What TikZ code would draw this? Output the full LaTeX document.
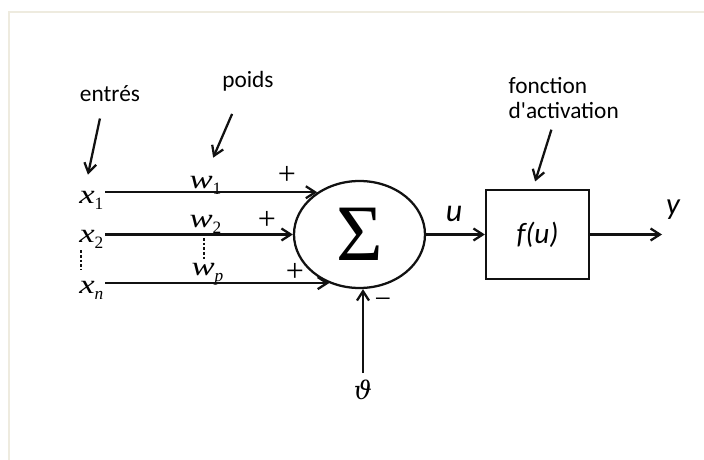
\documentclass[tikz,border=0pt]{standalone}
\usepackage{fontspec}
\usepackage{graphicx}
\usepackage{tikz}
\usetikzlibrary{positioning,shapes.geometric,arrows.meta}
\newfontfamily\carl{Carlito}
\newfontfamily\tmsf{Liberation Serif}
\newfontfamily\djv{DejaVu Serif}
\definecolor{NeurFrame}{HTML}{EEEBDF}
\definecolor{NeurInk}{HTML}{111111}
\newcommand{\vsub}[2]{\scalebox{1.3}[1]{\itshape #1}\raisebox{-0.55ex}{\fontsize{13}{13}\selectfont #2}}

\begin{document}
\begin{tikzpicture}[x=0.75pt,y=-0.75pt,>={Straight Barb[length=7pt,width=9pt]}]
  \tikzstyle{lbl}=[inner sep=1pt,font=\carl\fontsize{17.5}{18.75}\selectfont]
  \tikzstyle{var}=[inner sep=1pt,font=\tmsf\fontsize{20}{20}\selectfont]
  \tikzstyle{sgn}=[inner sep=0pt,font=\tmsf\fontsize{24}{24}\selectfont]
  \tikzstyle{wire}=[draw=NeurInk,line width=1.7pt]
  \tikzstyle{dots}=[wire,line width=1.3pt,dash pattern=on 2pt off 1.5pt]
  \useasboundingbox (0,0) rectangle (704,460);
  \draw[NeurFrame,line width=1.5pt] (9,460) -- (9,12) -- (704,12);

  % neurone
  \node[wire,ellipse,minimum width=98.25pt,minimum height=80.25pt,inner sep=0pt]
    (sum) at (359.5,234.5) {\tmsf\fontsize{60}{60}\selectfont Σ};
  \node[wire,minimum width=77.25pt,minimum height=66.75pt]
    (act) at (537.5,234.5) {\carl\itshape\fontsize{22}{22}\selectfont f(u)};
  \coordinate (out) at (662,234.5);

  % entrees et poids
  \node[var,anchor=base east] (x1) at (105,203) {\vsub{x}{1}};
  \node[var,anchor=base east] (x2) at (105,242) {\vsub{x}{2}};
  \node[var,anchor=base east] (xn) at (105,293) {\vsub{x}{\itshape n}};
  \node[var,anchor=base west] (w1) at (188,188) {\vsub{w}{1}};
  \node[var,anchor=base west] (w2) at (188,227) {\vsub{w}{2}};
  \node[var,anchor=base west] (wp) at (190,275) {\vsub{w}{\itshape p}};
  \node[sgn] (p1) at (287,175) {+};
  \node[sgn] (p2) at (267,220) {+};
  \node[sgn] (p3) at (295,272) {+};
  \node[sgn,font=\tmsf\fontsize{22}{22}\selectfont] (mn) at (383,303) {−};
  \node[inner sep=1pt,font=\djv\itshape\fontsize{19}{19}\selectfont]
    (theta) at (363,390) {ϑ};
  \node[lbl,font=\carl\itshape\fontsize{24}{24}\selectfont] (u) at (454,214) {u};
  \node[lbl,font=\carl\itshape\fontsize{23}{23}\selectfont] (y) at (673,210) {y};

  % etiquettes
  \node[lbl,anchor=base] (lent) at (110,102) {entrés};
  \node[lbl,anchor=base] (lpoids) at (248,88) {poids};
  \node[lbl,anchor=west,align=left] (lact) at (507,98) {fonction\\d'activation};

  \draw[wire,->] (sum.135.4 -| x1.east) -- (sum.135.4);
  \draw[wire,->] (sum.west -| x2.east) -- (sum.west);
  \draw[wire,->] (sum.238.9 -| xn.east) -- (sum.238.9);
  \draw[wire,->,shorten <=4pt] (theta.north) -- (theta.north |- sum.south);
  \draw[wire,->] (sum.east) -- (act.west);
  \draw[wire,->] (act.east) -- (out);
  \draw[dots,shorten >=7pt] ([xshift=-8pt]x2.south) -- ([xshift=-8pt]x2.south |- xn.north);
  \draw[dots,shorten <=2pt] ([xshift=-1pt]w2.south) -- ([xshift=-1pt]w2.south |- wp.north);

  \draw[wire,->,shorten <=11.3pt,shorten >=11.1pt]
    ([xshift=-5.2pt]lent.south) -- ([xshift=-4.9pt]x1.north);
  \draw[wire,->,shorten <=16.8pt,shorten >=13.5pt]
    ([xshift=-5.25pt]lpoids.south) -- ([xshift=0.4pt]w1.north);
  \draw[wire,->,shorten <=7.4pt,shorten >=5.8pt]
    ([xshift=-7pt]lact.south) -- ([xshift=-3.5pt]act.north);
\end{tikzpicture}
\end{document}
